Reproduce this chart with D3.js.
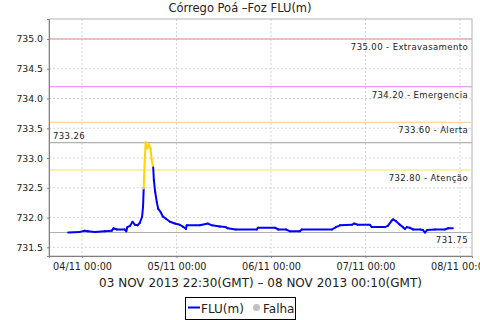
<!DOCTYPE html>
<html>
<head>
<meta charset="utf-8">
<script src="https://cdn.jsdelivr.net/npm/d3@7"></script>
<style>
  body { margin: 0; background: #fff; }
  text { font-family: "DejaVu Sans", sans-serif; fill: #222; }
</style>
</head>
<body>
<div class="chart"></div>
<script>
//----Data----
const times = [
  "2013-11-03 20:30", "2013-11-03 23:25", "2013-11-04 00:40", "2013-11-04 01:30", "2013-11-04 03:15",
  "2013-11-04 05:45", "2013-11-04 07:35", "2013-11-04 08:00", "2013-11-04 08:50", "2013-11-04 10:50",
  "2013-11-04 11:15", "2013-11-04 11:30", "2013-11-04 12:10", "2013-11-04 12:50", "2013-11-04 13:25",
  "2013-11-04 14:05", "2013-11-04 14:40", "2013-11-04 15:15", "2013-11-04 15:30", "2013-11-04 15:40",
  "2013-11-04 15:55", "2013-11-04 16:10", "2013-11-04 16:35", "2013-11-04 17:00", "2013-11-04 17:25",
  "2013-11-04 17:40", "2013-11-04 18:05", "2013-11-04 18:15", "2013-11-04 18:35", "2013-11-04 19:00",
  "2013-11-04 19:20", "2013-11-04 20:00", "2013-11-04 20:30", "2013-11-04 21:20", "2013-11-04 22:20",
  "2013-11-04 23:35", "2013-11-05 00:50", "2013-11-05 01:35", "2013-11-05 02:25", "2013-11-05 02:35",
  "2013-11-05 05:55", "2013-11-05 08:00", "2013-11-05 09:00", "2013-11-05 11:00", "2013-11-05 12:30",
  "2013-11-05 13:00", "2013-11-05 15:00", "2013-11-05 20:25", "2013-11-05 20:40", "2013-11-06 01:00",
  "2013-11-06 01:50", "2013-11-06 03:50", "2013-11-06 04:50", "2013-11-06 07:20", "2013-11-06 07:50",
  "2013-11-06 15:30", "2013-11-06 16:30", "2013-11-06 17:30", "2013-11-06 20:35", "2013-11-06 21:05",
  "2013-11-06 22:05", "2013-11-07 01:05", "2013-11-07 01:35", "2013-11-07 04:55", "2013-11-07 05:40",
  "2013-11-07 06:40", "2013-11-07 07:00", "2013-11-07 07:45", "2013-11-07 08:45", "2013-11-07 09:30",
  "2013-11-07 10:00", "2013-11-07 10:30", "2013-11-07 11:15", "2013-11-07 12:05", "2013-11-07 13:55",
  "2013-11-07 14:35", "2013-11-07 15:05", "2013-11-07 15:40", "2013-11-07 17:40", "2013-11-07 20:10",
  "2013-11-07 21:00", "2013-11-07 22:10"
];
const flu = [
  731.75, 731.76, 731.78, 731.77, 731.76,
  731.77, 731.78, 731.82, 731.80, 731.80,
  731.77, 731.84, 731.86, 731.93, 731.88,
  731.87, 731.91, 732.01, 732.18, 732.49,
  732.95, 733.26, 733.16, 733.23, 733.16,
  732.98, 732.84, 732.63, 732.43, 732.26,
  732.15, 732.09, 732.02, 731.98, 731.93,
  731.90, 731.88, 731.85, 731.81, 731.87,
  731.87, 731.90, 731.87, 731.85, 731.84,
  731.82, 731.80, 731.80, 731.83, 731.83,
  731.80, 731.80, 731.77, 731.77, 731.80,
  731.80, 731.84, 731.87, 731.88, 731.90,
  731.88, 731.88, 731.84, 731.84, 731.86,
  731.95, 731.97, 731.94, 731.88, 731.84,
  731.81, 731.84, 731.83, 731.80, 731.80,
  731.79, 731.75, 731.79, 731.80, 731.80,
  731.82, 731.82
];

const thresholdValues = [735.00, 734.20, 733.60, 732.80];
const thresholdNames = ["Extravasamento", "Emergencia", "Alerta", "Atenção"];
const thresholdColors = ["#e68a8a", "#eb9cf0", "#ffcc88", "#f6e650"];

const yTicks = [731.5, 732.0, 732.5, 733.0, 733.5, 734.0, 734.5, 735.0];
const yDomain = [731.355, 735.335];

const titleText = "Córrego Poá –Foz FLU(m)";
const xLabel = "03 NOV 2013 22:30(GMT) – 08 NOV 2013 00:10(GMT)";
const legendNames = ["FLU(m)", "Falha"];

//----Chart Initialization----
const margin = ({top: 19, right: 8, bottom: 64, left: 49});
const width = 480 - margin.left - margin.right,
      height = 320 - margin.top - margin.bottom;

const parse = d3.utcParse("%Y-%m-%d %H:%M");
const data = times.map((t, i) => ({date: parse(t), v: flu[i]}));

const root = d3.select(".chart").append("svg")
    .attr("width", 480)
    .attr("height", 320);

root.append("rect").attr("width", 480).attr("height", 320).attr("fill", "#fff");

const svg = root.append("g")
    .attr("transform", "translate(" + margin.left + "," + margin.top + ")");

// 5% margin on each side like the original
const ext = d3.extent(data, d => d.date);
const span = ext[1] - ext[0];
const xScale = d3.scaleUtc()
    .domain([new Date(+ext[0] - span * 0.05), new Date(+ext[1] + span * 0.05)])
    .range([0, width]);

const yScale = d3.scaleLinear()
    .domain(yDomain)
    .range([height, 0]);

const xTicks = d3.utcDay.range(d3.utcDay.ceil(xScale.domain()[0]), xScale.domain()[1]);

// grid
svg.append("g")
  .selectAll("line")
  .data(yTicks)
  .join("line")
    .attr("x1", 0).attr("x2", width)
    .attr("y1", d => yScale(d)).attr("y2", d => yScale(d))
    .attr("stroke", "#d4d4d4")
    .attr("stroke-dasharray", "2,2");

svg.append("g")
  .selectAll("line")
  .data(xTicks)
  .join("line")
    .attr("x1", d => xScale(d)).attr("x2", d => xScale(d))
    .attr("y1", 0).attr("y2", height)
    .attr("stroke", "#d4d4d4")
    .attr("stroke-dasharray", "2,2");

// plot outline
svg.append("rect")
    .attr("width", width).attr("height", height)
    .attr("fill", "none")
    .attr("stroke", "#b4b4b4");

// min / max lines
const vMax = d3.max(flu), vMin = d3.min(flu);
[vMax, vMin].forEach(v => {
  svg.append("line")
    .attr("x1", 0).attr("x2", width)
    .attr("y1", yScale(v)).attr("y2", yScale(v))
    .attr("stroke", "#b0b0b0")
    .attr("stroke-width", 1.2);
});

// threshold lines
thresholdValues.forEach((v, i) => {
  svg.append("line")
    .attr("x1", 0).attr("x2", width)
    .attr("y1", yScale(v)).attr("y2", yScale(v))
    .attr("stroke", thresholdColors[i])
    .attr("stroke-width", 1.1);
  svg.append("text")
    .attr("x", width - 4)
    .attr("y", yScale(v) + 11)
    .attr("text-anchor", "end")
    .attr("font-size", "8.5px")
    .attr("letter-spacing", "0.4px")
    .text(v.toFixed(2) + " - " + thresholdNames[i]);
});

svg.append("text")
    .attr("x", 4)
    .attr("y", yScale(vMax) - 3.5)
    .attr("font-size", "8.5px")
    .attr("letter-spacing", "0.4px")
    .text(vMax.toFixed(2));

svg.append("text")
    .attr("x", width - 4)
    .attr("y", yScale(vMin) + 11)
    .attr("text-anchor", "end")
    .attr("font-size", "8.5px")
    .attr("letter-spacing", "0.4px")
    .text(vMin.toFixed(2));

// series, coloured per segment by the end point
const line = d3.line().x(d => xScale(d.date)).y(d => yScale(d.v));
svg.append("g")
  .selectAll("path")
  .data(d3.pairs(data))
  .join("path")
    .attr("d", d => line(d))
    .attr("fill", "none")
    .attr("stroke", d => d[1].v >= thresholdValues[3] ? "#ffd400" : "#0000ff")
    .attr("stroke-width", 2)
    .attr("stroke-linecap", "round");

// axes
const xAxis = d3.axisBottom(xScale)
    .tickValues(xTicks)
    .tickFormat(d3.utcFormat("%d/%m %H:%M"))
    .tickSize(2)
    .tickPadding(5);

const yAxis = d3.axisLeft(yScale)
    .tickValues(yTicks)
    .tickFormat(d3.format(".1f"))
    .tickSize(2)
    .tickPadding(4);

const gx = svg.append("g")
    .attr("class", "axis x-axis")
    .attr("transform", `translate(0, ${height})`)
    .call(xAxis);

const gy = svg.append("g")
    .attr("class", "axis y-axis")
    .call(yAxis);

[gx, gy].forEach(g => {
  g.select(".domain").attr("stroke", "#808080");
  g.selectAll(".tick line").attr("stroke", "#808080");
  g.selectAll(".tick text")
    .attr("fill", "#222")
    .attr("font-family", "DejaVu Sans, sans-serif");
});
gx.selectAll(".tick text").attr("font-size", "9.7px");
gy.selectAll(".tick text").attr("font-size", "9.3px");

// title and axis label
root.append("text")
    .attr("x", 240)
    .attr("y", 12)
    .attr("text-anchor", "middle")
    .attr("font-size", "11.5px")
    .text(titleText);

root.append("text")
    .attr("x", margin.left + width / 2)
    .attr("y", 286.5)
    .attr("text-anchor", "middle")
    .attr("font-size", "12px")
    .text(xLabel);

// legend
const legend = root.append("g");
legend.append("rect")
    .attr("x", 185.5).attr("y", 297.5)
    .attr("width", 110).attr("height", 22)
    .attr("fill", "#fff")
    .attr("stroke", "#000");
legend.append("line")
    .attr("x1", 188).attr("x2", 200)
    .attr("y1", 307.5).attr("y2", 307.5)
    .attr("stroke", "#0000ff")
    .attr("stroke-width", 2);
legend.append("text")
    .attr("x", 201).attr("y", 312.5)
    .attr("font-size", "12px")
    .text(legendNames[0]);
legend.append("circle")
    .attr("cx", 256.5).attr("cy", 307.5)
    .attr("r", 3.5)
    .attr("fill", "#c0c0c0");
legend.append("text")
    .attr("x", 263).attr("y", 312.5)
    .attr("font-size", "12px")
    .text(legendNames[1]);
</script>
</body>
</html>
